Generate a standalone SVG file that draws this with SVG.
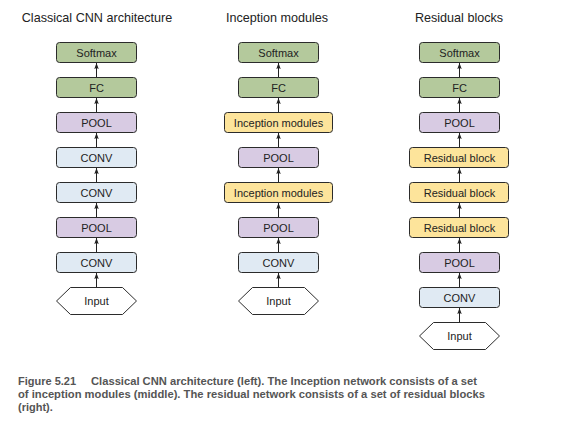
<svg xmlns="http://www.w3.org/2000/svg" width="562" height="440" viewBox="0 0 562 440">
<defs>
<marker id="ah" viewBox="0 0 8 6" refX="8" refY="3" markerWidth="6" markerHeight="4.5" orient="auto" markerUnits="userSpaceOnUse">
<path d="M0,0 L8,3 L0,6 L1.5,3 Z" fill="#222"/>
</marker>
</defs>
<style>
.n{stroke:#2b2b2b;stroke-width:1}
.g{fill:#b4c99c}.p{fill:#d8cbe3}.b{fill:#e0eaf3}.y{fill:#fde49b}.w{fill:#fff}
.t{font-family:"Liberation Sans",Arial,sans-serif;font-size:11px;fill:#222;text-anchor:middle}
.h{font-family:"Liberation Sans",Arial,sans-serif;font-size:12.6px;fill:#222;text-anchor:middle}
.c line{stroke:#222;stroke-width:1;marker-end:url(#ah)}
.cap{font-family:"Liberation Sans",Arial,sans-serif;font-size:11px;font-weight:bold;fill:#555}
</style>
<rect width="562" height="440" fill="#fff"/>
<text class="h" x="97" y="22">Classical CNN architecture</text>
<text class="h" x="277" y="22">Inception modules</text>
<text class="h" x="459" y="22">Residual blocks</text>
<g id="l-softmax"><rect class="n g" x="56.5" y="42.5" width="80" height="20" rx="3"/><text class="t" x="96.5" y="56.5">Softmax</text></g>
<g id="l-fc"><rect class="n g" x="56.5" y="77.5" width="80" height="20" rx="3"/><text class="t" x="96.5" y="91.5">FC</text></g>
<g id="l-pool1"><rect class="n p" x="56.5" y="112.5" width="80" height="20" rx="3"/><text class="t" x="96.5" y="126.5">POOL</text></g>
<g id="l-conv1"><rect class="n b" x="56.5" y="147.5" width="80" height="20" rx="3"/><text class="t" x="96.5" y="161.5">CONV</text></g>
<g id="l-conv2"><rect class="n b" x="56.5" y="182.5" width="80" height="20" rx="3"/><text class="t" x="96.5" y="196.5">CONV</text></g>
<g id="l-pool2"><rect class="n p" x="56.5" y="217.5" width="80" height="20" rx="3"/><text class="t" x="96.5" y="231.5">POOL</text></g>
<g id="l-conv3"><rect class="n b" x="56.5" y="252.5" width="80" height="20" rx="3"/><text class="t" x="96.5" y="266.5">CONV</text></g>
<g id="l-input"><polygon class="n w" points="56.5,301 70.5,287.5 122.5,287.5 136.5,301 122.5,314.5 70.5,314.5"/><text class="t" x="96.5" y="305">Input</text></g>
<g id="m-softmax"><rect class="n g" x="238.5" y="42.5" width="80" height="20" rx="3"/><text class="t" x="278.5" y="56.5">Softmax</text></g>
<g id="m-fc"><rect class="n g" x="238.5" y="77.5" width="80" height="20" rx="3"/><text class="t" x="278.5" y="91.5">FC</text></g>
<g id="m-inc1"><rect class="n y" x="224.5" y="112.5" width="108" height="20" rx="3"/><text class="t" x="278.5" y="126.5">Inception modules</text></g>
<g id="m-pool1"><rect class="n p" x="238.5" y="147.5" width="80" height="20" rx="3"/><text class="t" x="278.5" y="161.5">POOL</text></g>
<g id="m-inc2"><rect class="n y" x="224.5" y="182.5" width="108" height="20" rx="3"/><text class="t" x="278.5" y="196.5">Inception modules</text></g>
<g id="m-pool2"><rect class="n p" x="238.5" y="217.5" width="80" height="20" rx="3"/><text class="t" x="278.5" y="231.5">POOL</text></g>
<g id="m-conv"><rect class="n b" x="238.5" y="252.5" width="80" height="20" rx="3"/><text class="t" x="278.5" y="266.5">CONV</text></g>
<g id="m-input"><polygon class="n w" points="238.5,301 252.5,287.5 304.5,287.5 318.5,301 304.5,314.5 252.5,314.5"/><text class="t" x="278.5" y="305">Input</text></g>
<g id="r-softmax"><rect class="n g" x="419.5" y="42.5" width="80" height="20" rx="3"/><text class="t" x="459.5" y="56.5">Softmax</text></g>
<g id="r-fc"><rect class="n g" x="419.5" y="77.5" width="80" height="20" rx="3"/><text class="t" x="459.5" y="91.5">FC</text></g>
<g id="r-pool1"><rect class="n p" x="419.5" y="112.5" width="80" height="20" rx="3"/><text class="t" x="459.5" y="126.5">POOL</text></g>
<g id="r-res1"><rect class="n y" x="409.5" y="147.5" width="99" height="20" rx="3"/><text class="t" x="459.5" y="161.5">Residual block</text></g>
<g id="r-res2"><rect class="n y" x="409.5" y="182.5" width="99" height="20" rx="3"/><text class="t" x="459.5" y="196.5">Residual block</text></g>
<g id="r-res3"><rect class="n y" x="409.5" y="217.5" width="99" height="20" rx="3"/><text class="t" x="459.5" y="231.5">Residual block</text></g>
<g id="r-pool2"><rect class="n p" x="419.5" y="252.5" width="80" height="20" rx="3"/><text class="t" x="459.5" y="266.5">POOL</text></g>
<g id="r-conv"><rect class="n b" x="419.5" y="287.5" width="80" height="20" rx="3"/><text class="t" x="459.5" y="301.5">CONV</text></g>
<g id="r-input"><polygon class="n w" points="419.5,336 433.5,322.5 485.5,322.5 499.5,336 485.5,349.5 433.5,349.5"/><text class="t" x="459.5" y="340">Input</text></g>
<g id="connectors" class="c">
<line x1="96.5" y1="77" x2="96.5" y2="63"/>
<line x1="96.5" y1="112" x2="96.5" y2="98"/>
<line x1="96.5" y1="147" x2="96.5" y2="133"/>
<line x1="96.5" y1="182" x2="96.5" y2="168"/>
<line x1="96.5" y1="217" x2="96.5" y2="203"/>
<line x1="96.5" y1="252" x2="96.5" y2="238"/>
<line x1="96.5" y1="287" x2="96.5" y2="273"/>
<line x1="278.5" y1="77" x2="278.5" y2="63"/>
<line x1="278.5" y1="112" x2="278.5" y2="98"/>
<line x1="278.5" y1="147" x2="278.5" y2="133"/>
<line x1="278.5" y1="182" x2="278.5" y2="168"/>
<line x1="278.5" y1="217" x2="278.5" y2="203"/>
<line x1="278.5" y1="252" x2="278.5" y2="238"/>
<line x1="278.5" y1="287" x2="278.5" y2="273"/>
<line x1="459.5" y1="77" x2="459.5" y2="63"/>
<line x1="459.5" y1="112" x2="459.5" y2="98"/>
<line x1="459.5" y1="147" x2="459.5" y2="133"/>
<line x1="459.5" y1="182" x2="459.5" y2="168"/>
<line x1="459.5" y1="217" x2="459.5" y2="203"/>
<line x1="459.5" y1="252" x2="459.5" y2="238"/>
<line x1="459.5" y1="287" x2="459.5" y2="273"/>
<line x1="459.5" y1="322" x2="459.5" y2="308"/>
</g>
<text class="cap" x="18" y="385"><tspan>Figure 5.21</tspan><tspan x="91" textLength="386" lengthAdjust="spacingAndGlyphs">Classical CNN architecture (left). The Inception network consists of a set</tspan></text>
<text class="cap" x="18" y="398" textLength="467" lengthAdjust="spacingAndGlyphs">of inception modules (middle). The residual network consists of a set of residual blocks</text>
<text class="cap" x="18" y="411">(right).</text>
</svg>
